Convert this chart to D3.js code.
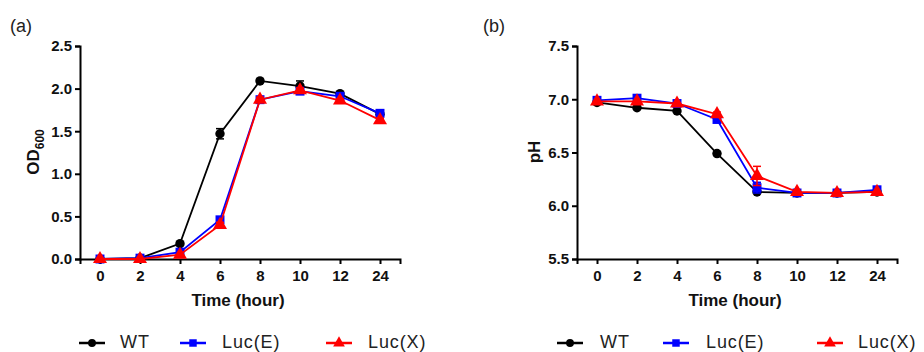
<!DOCTYPE html>
<html>
<head>
<meta charset="utf-8">
<script src="https://cdn.jsdelivr.net/npm/d3@7"></script>
<style>
  body { margin: 0; background: #fff; }
  svg { font-family: "Liberation Sans", Arial, sans-serif; }
</style>
</head>
<body>
<div id="chart-area"></div>
<script>
// time points (categorical, evenly spaced on the axis)
const timeLabels = ["0", "2", "4", "6", "8", "10", "12", "24"];
const seriesNames = ["WT", "Luc(E)", "Luc(X)"];
const seriesColors = ["#000000", "#0000ff", "#ff0000"];

// (a) OD600
const odWT   = [0.00, 0.01, 0.18, 1.47, 2.09, 2.03, 1.94, 1.70];
const odLucE = [0.00, 0.01, 0.08, 0.46, 1.87, 1.97, 1.91, 1.71];
const odLucX = [0.00, 0.00, 0.05, 0.40, 1.87, 1.98, 1.86, 1.63];
const odErrWT   = [0, 0, 0.02, 0.06, 0.02, 0.06, 0.02, 0.02];
const odErrLucE = [0, 0, 0.02, 0.03, 0.03, 0.03, 0.02, 0.02];
const odErrLucX = [0, 0, 0.01, 0.03, 0.03, 0.03, 0.02, 0.02];

// (b) pH
const phWT   = [6.97, 6.92, 6.89, 6.49, 6.13, 6.12, 6.12, 6.13];
const phLucE = [6.99, 7.01, 6.96, 6.81, 6.17, 6.12, 6.12, 6.15];
const phLucX = [6.98, 6.98, 6.96, 6.86, 6.28, 6.13, 6.12, 6.13];
const phErrWT   = [0.01, 0.01, 0.01, 0.01, 0.01, 0.01, 0.01, 0.01];
const phErrLucE = [0.01, 0.01, 0.01, 0.02, 0.05, 0.01, 0.01, 0.01];
const phErrLucX = [0.01, 0.01, 0.01, 0.02, 0.09, 0.01, 0.01, 0.01];

const width = 924;
const height = 352;

const svg = d3.select("#chart-area")
  .append("svg")
  .attr("width", width)
  .attr("height", height);

const symbols = [d3.symbolCircle, d3.symbolSquare, d3.symbolTriangle];
const symbolSizes = [70, 80, 85];

function drawPanel(opts) {
  const x = d3.scalePoint()
    .domain(timeLabels)
    .range([opts.left, opts.right])
    .padding(0.5);

  const y = d3.scaleLinear()
    .domain(opts.yDomain)
    .range([259, 46]);

  // axes
  const xAxis = svg.append("g")
    .attr("transform", `translate(0,${y(opts.yDomain[0])})`)
    .call(d3.axisBottom(x).tickSizeOuter(0).tickSize(5).tickPadding(6));
  const yAxis = svg.append("g")
    .attr("transform", `translate(${opts.left},0)`)
    .call(d3.axisLeft(y).tickValues(opts.yTicks).tickFormat(d3.format(".1f"))
      .tickSizeOuter(0).tickSize(5).tickPadding(3));

  [xAxis, yAxis].forEach(a => {
    a.selectAll("path, line").attr("stroke", "#000").attr("stroke-width", 2);
    a.selectAll("text")
      .attr("fill", "#111")
      .style("font-size", "15px")
      .style("font-weight", "bold");
  });

  // series
  opts.series.forEach((vals, i) => {
    const errs = opts.errors[i];
    const g = svg.append("g");
    const color = seriesColors[i];

    g.append("path")
      .datum(vals)
      .attr("fill", "none")
      .attr("stroke", color)
      .attr("stroke-width", 1.8)
      .attr("d", d3.line()
        .x((d, j) => x(timeLabels[j]))
        .y(d => y(d)));

    // error bars
    vals.forEach((v, j) => {
      const e = errs[j];
      if (e <= 0.015) return;
      const cx = x(timeLabels[j]);
      g.append("line")
        .attr("x1", cx).attr("x2", cx)
        .attr("y1", y(v - e)).attr("y2", y(v + e))
        .attr("stroke", color).attr("stroke-width", 1.5);
      [v - e, v + e].forEach(t => {
        g.append("line")
          .attr("x1", cx - 4).attr("x2", cx + 4)
          .attr("y1", y(t)).attr("y2", y(t))
          .attr("stroke", color).attr("stroke-width", 1.5);
      });
    });

    g.selectAll("path.mark")
      .data(vals)
      .join("path")
      .attr("class", "mark")
      .attr("transform", (d, j) => `translate(${x(timeLabels[j])},${y(d)})`)
      .attr("d", d3.symbol().type(symbols[i]).size(symbolSizes[i]))
      .attr("fill", color);
  });

  // axis titles
  svg.append("text")
    .attr("x", (opts.left + opts.right) / 2 - 2)
    .attr("y", 306)
    .attr("text-anchor", "middle")
    .style("font-size", "17px")
    .style("font-weight", "bold")
    .attr("fill", "#111")
    .text("Time (hour)");

  const yt = svg.append("text")
    .attr("transform", `translate(${opts.yTitleX},152) rotate(-90)`)
    .attr("text-anchor", "middle")
    .style("font-size", "17px")
    .style("font-weight", "bold")
    .attr("fill", "#111");
  yt.append("tspan").text(opts.yTitle);
  if (opts.yTitleSub) {
    yt.append("tspan")
      .attr("dy", 5)
      .style("font-size", "12px")
      .text(opts.yTitleSub);
  }

  // panel letter
  svg.append("text")
    .attr("x", opts.letterX)
    .attr("y", 32)
    .style("font-size", "18px")
    .attr("fill", "#222")
    .text(opts.letter);

  // legend
  opts.legendX.forEach((lx, i) => {
    const g = svg.append("g").attr("transform", `translate(${lx},343)`);
    g.append("line")
      .attr("x1", -13).attr("x2", 13)
      .attr("stroke", seriesColors[i]).attr("stroke-width", 2.5);
    g.append("path")
      .attr("d", d3.symbol().type(symbols[i]).size(symbolSizes[i] * 0.7))
      .attr("fill", seriesColors[i]);
    g.append("text")
      .attr("x", opts.legendTextX[i] - lx)
      .attr("y", 5)
      .style("font-size", "18px")
      .style("letter-spacing", "0.9px")
      .attr("fill", "#222")
      .text(seriesNames[i]);
  });
}

drawPanel({
  left: 80, right: 400,
  yDomain: [0, 2.5],
  yTicks: [0, 0.5, 1.0, 1.5, 2.0, 2.5],
  series: [odWT, odLucE, odLucX],
  errors: [odErrWT, odErrLucE, odErrLucX],
  yTitle: "OD", yTitleSub: "600", yTitleX: 39,
  letter: "(a)", letterX: 10,
  legendX: [92, 193, 339],
  legendTextX: [120, 222, 368]
});

drawPanel({
  left: 577, right: 897,
  yDomain: [5.5, 7.5],
  yTicks: [5.5, 6.0, 6.5, 7.0, 7.5],
  series: [phWT, phLucE, phLucX],
  errors: [phErrWT, phErrLucE, phErrLucX],
  yTitle: "pH", yTitleSub: null, yTitleX: 540,
  letter: "(b)", letterX: 483,
  legendX: [570, 676, 830],
  legendTextX: [600, 706, 858]
});
</script>
</body>
</html>
